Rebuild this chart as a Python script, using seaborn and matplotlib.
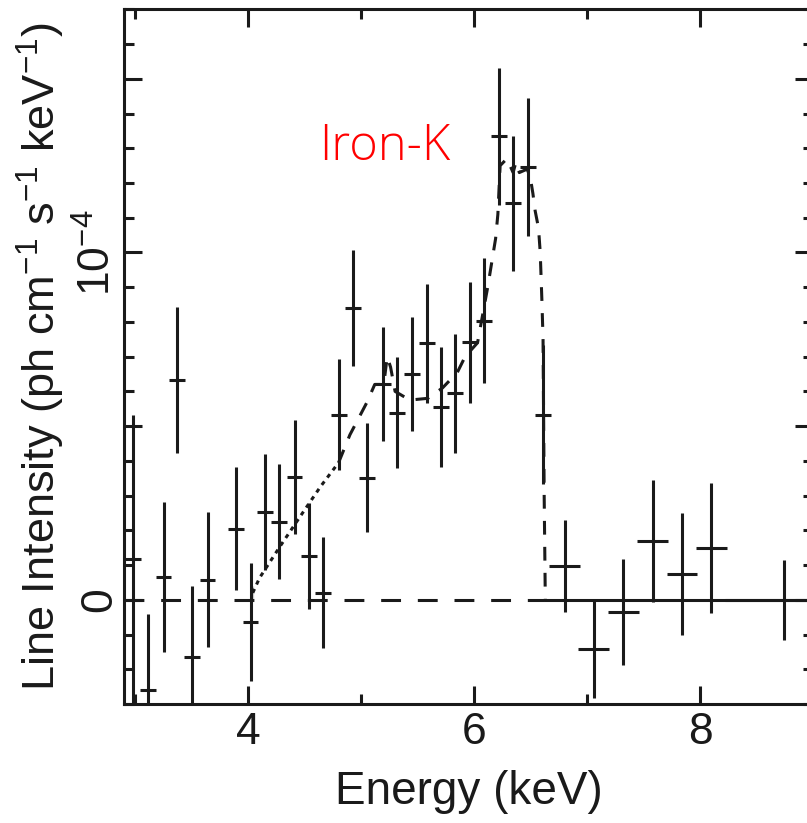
import numpy as np
import pandas as pd
import matplotlib
matplotlib.use("Agg")
import matplotlib.pyplot as plt
import seaborn as sns
from matplotlib.ticker import MultipleLocator, FixedLocator

# ---- data (intensity in units of 1e-4 ph cm^-1 s^-1 keV^-1) ----
energy = [2.98, 3.115, 3.25, 3.37, 3.50, 3.64, 3.89, 4.02, 4.15, 4.27, 4.41, 4.54,
          4.66, 4.80, 4.93, 5.05, 5.19, 5.32, 5.45, 5.58, 5.71, 5.83, 5.96, 6.09,
          6.22, 6.345, 6.48, 6.61, 6.80, 7.06, 7.32, 7.58, 7.84, 8.10, 8.74]
intensity = [0.118, -0.26, 0.066, 0.634, -0.164, 0.058, 0.205, -0.063, 0.254, 0.225,
             0.354, 0.127, 0.02, 0.533, 0.839, 0.352, 0.62, 0.539, 0.651, 0.738,
             0.556, 0.594, 0.741, 0.804, 1.334, 1.141, 1.245, 0.533, 0.098, -0.141,
             -0.035, 0.17, 0.075, 0.15, 0.0]
int_err = [0.415, 0.22, 0.216, 0.21, 0.205, 0.194, 0.176, 0.17, 0.167, 0.165,
           0.164, 0.153, 0.16, 0.16, 0.167, 0.158, 0.164, 0.161, 0.164, 0.17,
           0.173, 0.17, 0.173, 0.18, 0.196, 0.193, 0.199, 0.2, 0.133, 0.141,
           0.153, 0.176, 0.176, 0.187, 0.115]
energy_err = [0.07] * 28 + [0.137] * 6 + [0.52]

# model curve
model_e_dot = [4.04, 4.04, 4.10, 4.28, 4.46, 4.64, 4.80]
model_i_dot = [0.0, 0.04, 0.063, 0.153, 0.24, 0.326, 0.395]
model_e = [4.80, 4.90, 5.05, 5.12, 5.20, 5.23, 5.26, 5.30, 5.43, 5.59, 5.72, 5.85,
           5.92, 6.03, 6.12, 6.19, 6.21, 6.23, 6.29, 6.345, 6.37, 6.40, 6.47, 6.50,
           6.52, 6.54, 6.57, 6.585, 6.60, 6.61, 6.62, 6.63]
model_i = [0.395, 0.475, 0.568, 0.62, 0.62, 0.70, 0.67, 0.60, 0.575, 0.58, 0.61, 0.654,
           0.70, 0.74, 0.90, 1.04, 1.11, 1.25, 1.27, 1.23, 1.26, 1.23, 1.24, 1.21,
           1.17, 1.12, 1.07, 1.0, 0.86, 0.75, 0.3, 0.0]
base_dash_e = [2.90, 6.62]
base_solid_e = [6.62, 9.0]

# ---- style ----
sns.set_theme(style="ticks")
plt.rcParams['font.family'] = ['Liberation Sans', 'DejaVu Sans']
plt.rcParams['mathtext.default'] = 'regular'

ink = '#1a1a1a'
fig = plt.figure(figsize=(8.07, 8.23), dpi=100)
ax = fig.add_axes([124 / 807, (823 - 704) / 823, (813 - 124) / 807, (704 - 9.3) / 823])

lw = 2.2
# baselines
sns.lineplot(x=base_dash_e, y=[0, 0], ax=ax, color=ink, lw=lw,
             linestyle=(0, (6.5, 5.5)), sort=False)
sns.lineplot(x=base_solid_e, y=[0, 0], ax=ax, color=ink, lw=lw, sort=False)
# model
sns.lineplot(x=model_e_dot, y=model_i_dot, ax=ax, color=ink, lw=lw,
             linestyle=(0, (1.4, 1.6)), sort=False)
sns.lineplot(x=model_e, y=model_i, ax=ax, color=ink, lw=lw,
             linestyle=(0, (4.5, 4.0)), sort=False)

# data with error bars
ax.errorbar(energy, intensity, xerr=energy_err, yerr=int_err, fmt='none',
            ecolor=ink, elinewidth=lw, capsize=0)

ax.set_xlim(2.90, 9.0)
ax.set_ylim(-0.30, 1.70)

ax.xaxis.set_major_locator(FixedLocator([4, 6, 8]))
ax.xaxis.set_minor_locator(FixedLocator([3, 5, 7, 9]))
ax.yaxis.set_major_locator(FixedLocator([0, 0.5, 1.0, 1.5]))
ax.yaxis.set_minor_locator(MultipleLocator(0.1))
ax.set_yticklabels(['0', '', '10$^{-4}$', ''])

for s in ax.spines.values():
    s.set_linewidth(lw)
    s.set_color(ink)
ax.tick_params(which='both', direction='in', top=True, right=True,
               width=lw, color=ink, labelsize=32, labelcolor=ink)
ax.tick_params(which='major', length=13)
ax.tick_params(which='minor', length=7.2)
ax.tick_params(axis='x', pad=6)
ax.tick_params(axis='y', labelrotation=90, pad=3)
for lab in ax.get_yticklabels():
    lab.set_verticalalignment('center')

ax.set_xlabel('Energy (keV)', fontsize=33, color=ink, labelpad=12)
ax.set_ylabel('Line Intensity (ph cm$^{-1}$ s$^{-1}$ keV$^{-1}$)', fontsize=32.5,
              color=ink, labelpad=7)

ax.text(4.63, 1.265, 'Iron-K', color='#ff0000', fontsize=35,
        family=['Open Sans', 'DejaVu Sans'], fontweight='light',
        ha='left', va='baseline')

fig.savefig('out.png', dpi=100)
